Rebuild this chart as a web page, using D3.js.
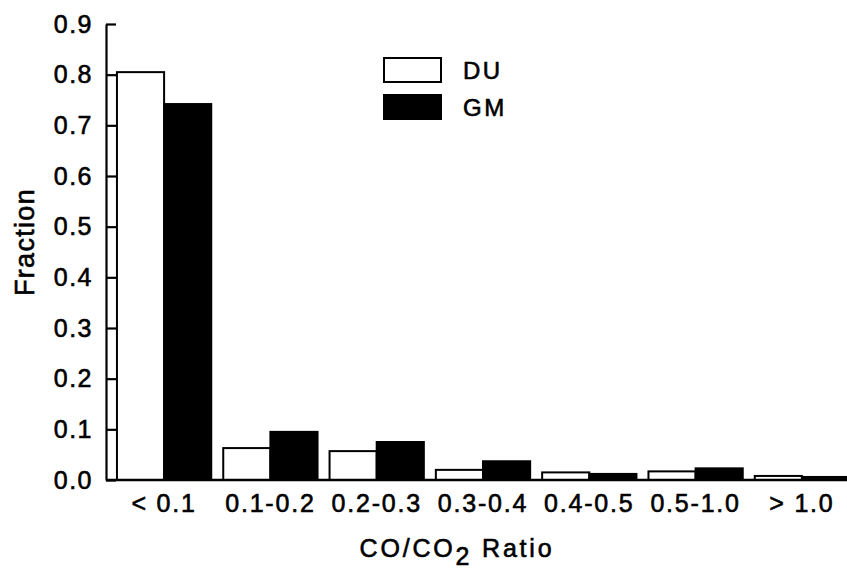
<!DOCTYPE html>
<html>
<head>
<meta charset="utf-8">
<script src="https://cdn.jsdelivr.net/npm/d3@7"></script>
<style>
  body { margin: 0; background: #fff; }
  text { font-family: "Liberation Sans", Arial, Helvetica, sans-serif; fill: #000; stroke: #000; stroke-width: 0.6px; }
</style>
</head>
<body>
<div id="chart"></div>
<script>
// categories and values
var ratioBins = ["< 0.1", "0.1-0.2", "0.2-0.3", "0.3-0.4", "0.4-0.5", "0.5-1.0", "> 1.0"];
var duValues = [0.805, 0.063, 0.057, 0.02, 0.015, 0.017, 0.008];
var gmValues = [0.742, 0.095, 0.075, 0.037, 0.012, 0.023, 0.006];
var seriesNames = ["DU", "GM"];
var yTicks = [0, 0.1, 0.2, 0.3, 0.4, 0.5, 0.6, 0.7, 0.8, 0.9];

var W = 847, H = 572;

var svg = d3.select("#chart")
  .append("svg")
    .attr("width", W)
    .attr("height", H);

var x = d3.scaleBand()
  .domain(ratioBins)
  .range([111, 855])
  .paddingInner(0.113)
  .paddingOuter(0.056);

var xSub = d3.scaleBand()
  .domain(seriesNames)
  .range([0, x.bandwidth()]);

var y = d3.scaleLinear()
  .domain([0, 0.9])
  .range([480, 24]);

var fills = {DU: "#fff", GM: "#000"};

var rows = ratioBins.map(function(b, i) {
  return {bin: b, vals: [{s: "DU", v: duValues[i]}, {s: "GM", v: gmValues[i]}]};
});

// bars
var groups = svg.selectAll("g.grp")
  .data(rows)
  .enter()
  .append("g")
  .attr("class", "grp")
  .attr("transform", function(d) { return "translate(" + x(d.bin) + ",0)"; });

groups.selectAll("rect")
  .data(function(d) { return d.vals; })
  .enter()
  .append("rect")
  .attr("x", function(d) { return xSub(d.s); })
  .attr("y", function(d) { return y(d.v); })
  .attr("width", xSub.bandwidth())
  .attr("height", function(d) { return y(0) - y(d.v); })
  .style("fill", function(d) { return fills[d.s]; })
  .style("stroke", "#000")
  .style("stroke-width", 2);

// y axis, ticks pointing inward
var axisX = 106;
var yAxis = svg.append("g")
  .attr("transform", "translate(" + axisX + ",0)")
  .call(d3.axisLeft(y).tickValues(yTicks).tickFormat(d3.format(".1f")).tickSize(-10).tickSizeOuter(0).tickPadding(13));
yAxis.select(".domain").attr("stroke-width", 2.2);
yAxis.selectAll(".tick line").attr("stroke-width", 2.2);
yAxis.selectAll("text")
  .style("font-size", "25px")
  .style("letter-spacing", "1.5px");

// x axis
var xAxis = svg.append("g")
  .attr("transform", "translate(0," + y(0) + ")")
  .call(d3.axisBottom(x).tickSize(0).tickPadding(14));
xAxis.select(".domain").remove();
xAxis.selectAll("text")
  .style("font-size", "25px")
  .style("letter-spacing", "1.8px");

svg.append("line")
  .attr("x1", axisX)
  .attr("x2", W)
  .attr("y1", y(0))
  .attr("y2", y(0))
  .style("stroke", "#000")
  .style("stroke-width", 2.5);

// axis titles
svg.append("text")
  .attr("transform", "translate(34,242) rotate(-90)")
  .attr("text-anchor", "middle")
  .style("font-size", "27px")
  .style("letter-spacing", "1.3px")
  .text("Fraction");

var xt = svg.append("text")
  .attr("x", 457)
  .attr("y", 557)
  .attr("text-anchor", "middle")
  .style("font-size", "25px")
  .style("letter-spacing", "2.8px");
xt.append("tspan").text("CO/CO");
xt.append("tspan").attr("dy", 8).text("2");
xt.append("tspan").attr("dy", -8).text(" Ratio");

// legend
var legend = svg.selectAll("g.leg")
  .data(seriesNames)
  .enter()
  .append("g")
  .attr("class", "leg")
  .attr("transform", function(d, i) { return "translate(384," + (58 + i * 37) + ")"; });

legend.append("rect")
  .attr("width", 57)
  .attr("height", 24)
  .style("fill", function(d) { return fills[d]; })
  .style("stroke", "#000")
  .style("stroke-width", 2);

legend.append("text")
  .attr("x", 79)
  .attr("y", 21)
  .style("font-size", "24px")
  .style("letter-spacing", "2.5px")
  .text(function(d) { return d; });
</script>
</body>
</html>
